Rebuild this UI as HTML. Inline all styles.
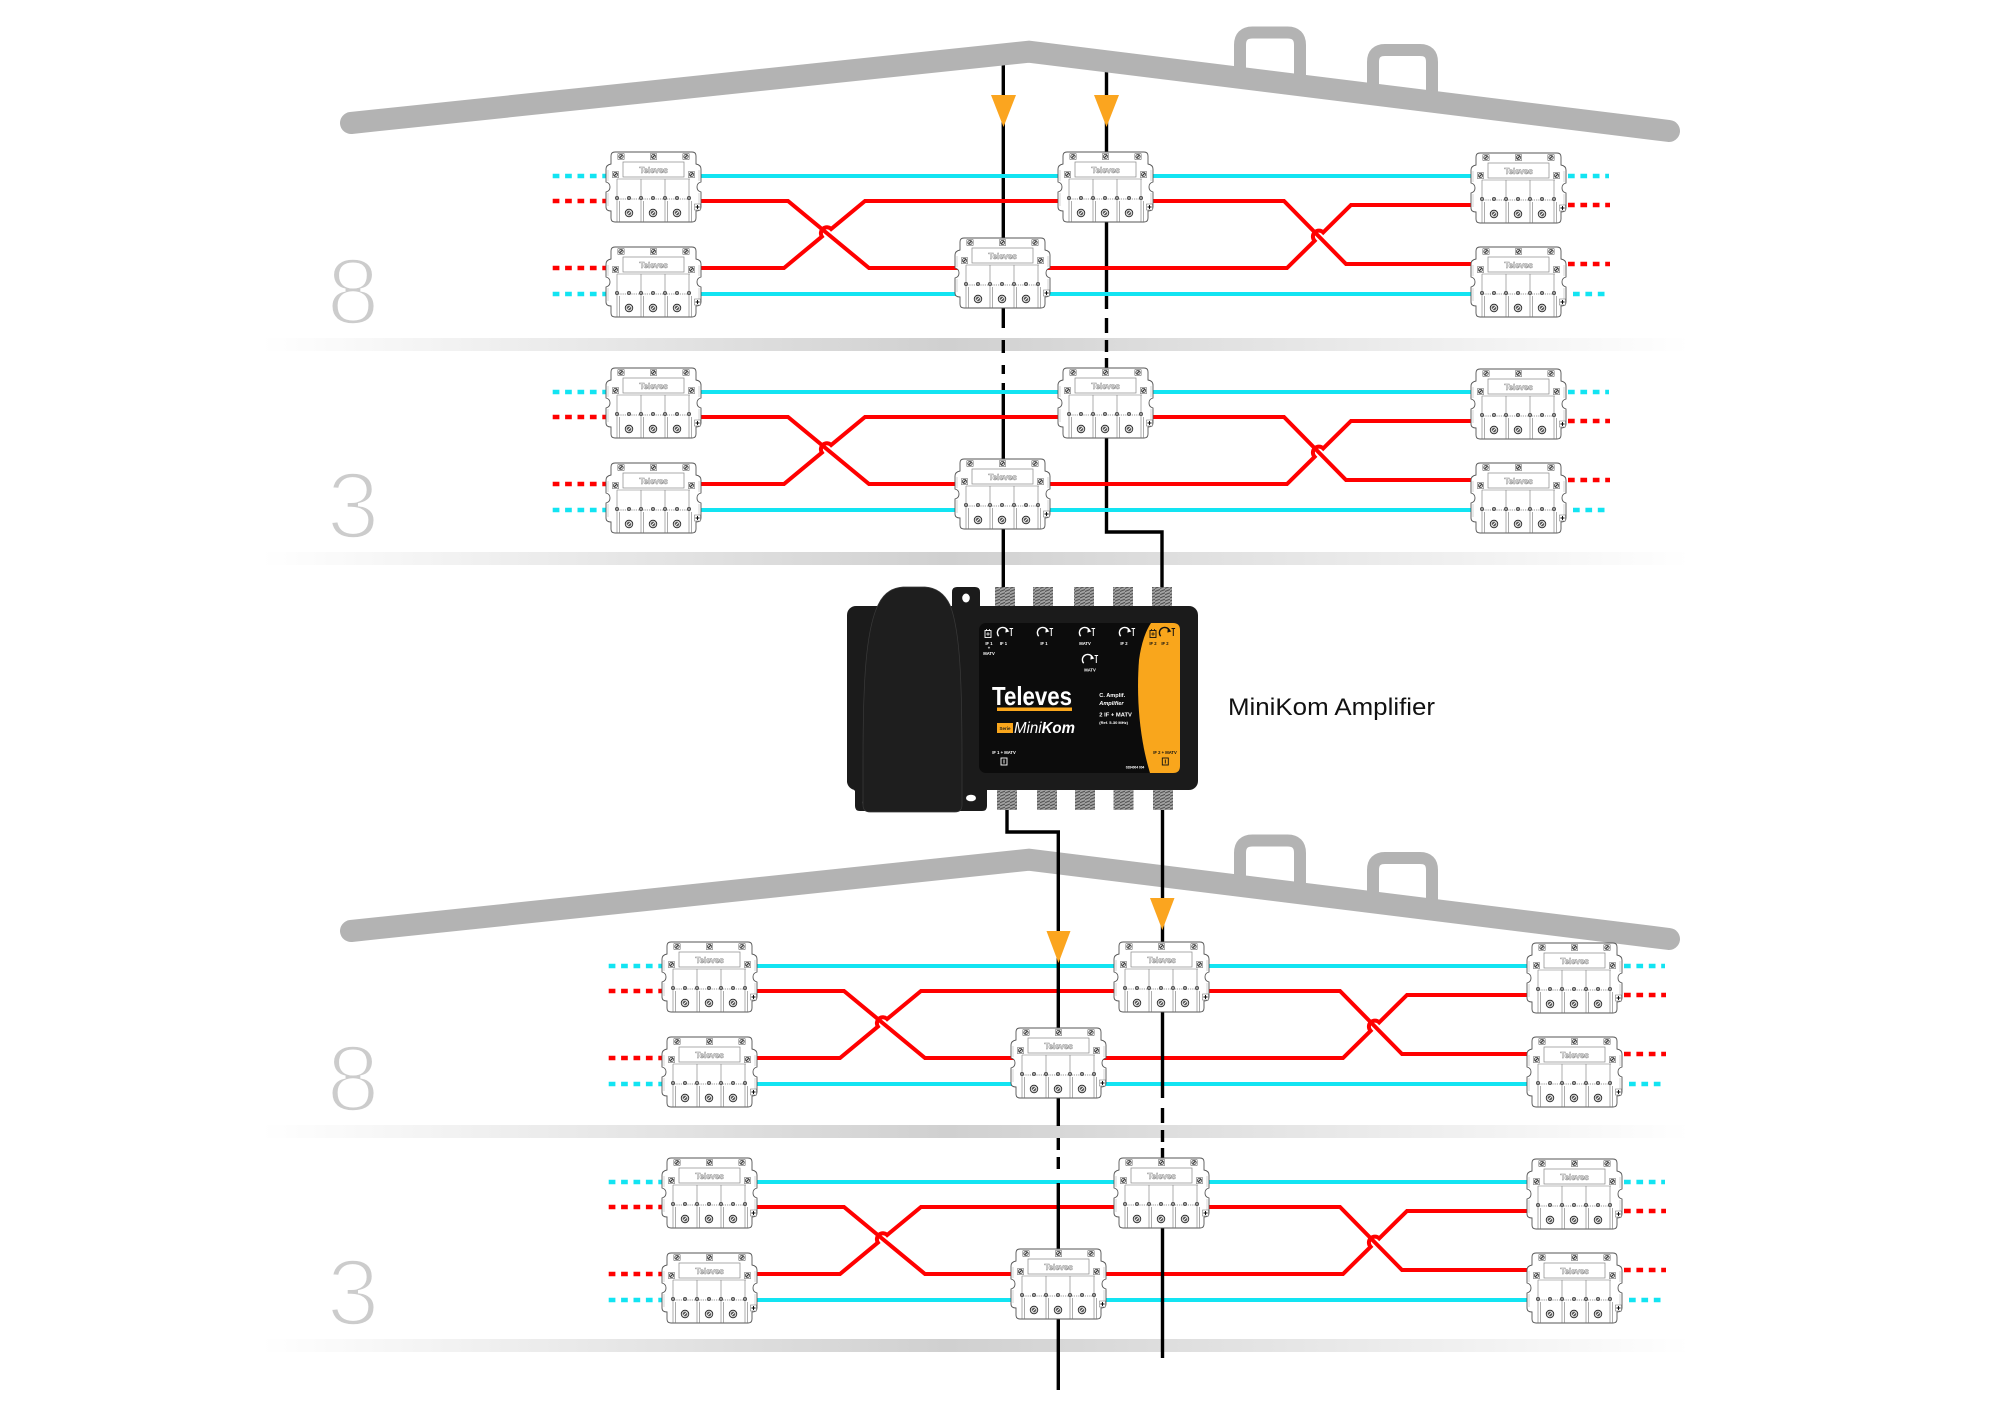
<!DOCTYPE html>
<html>
<head>
<meta charset="utf-8">
<style>
html,body{margin:0;padding:0;background:#fff;}
svg{display:block;}
</style>
</head>
<body>
<svg xmlns="http://www.w3.org/2000/svg" width="2008" height="1418" viewBox="0 0 2008 1418" font-family="'Liberation Sans', Arial, sans-serif">
<defs>
  <linearGradient id="band" gradientUnits="userSpaceOnUse" x1="262" y1="0" x2="1690" y2="0">
    <stop offset="0" stop-color="#ffffff"/>
    <stop offset="0.48" stop-color="#d0d0d0"/>
    <stop offset="1" stop-color="#ffffff"/>
  </linearGradient>
  <pattern id="thr" width="5" height="3.2" patternUnits="userSpaceOnUse">
    <rect width="5" height="3.2" fill="#a3a3a3"/>
    <path d="M0,2.7 L5,0.7" stroke="#4a4a4a" stroke-width="1"/>
  </pattern>
  <g id="scr">
    <rect x="-3.2" y="-3.2" width="6.4" height="6.4" rx="1" fill="#fff" stroke="#777" stroke-width=".6"/>
    <circle r="2.2" fill="#d8d8d8" stroke="#222" stroke-width=".6"/>
    <path d="M-1.3,1.3 L1.3,-1.3" stroke="#111" stroke-width=".8"/>
  </g>
  <g id="bs">
    <circle r="3.8" fill="#cfcfcf" stroke="#222" stroke-width=".8"/>
    <circle r="2.1" fill="#555"/>
    <path d="M-1.6,1.6 L1.6,-1.6" stroke="#fff" stroke-width=".9"/>
  </g>
  <g id="ss">
    <circle r="1.8" fill="#999" stroke="#111" stroke-width=".5"/>
  </g>
  <g id="sp">
    <path d="M4,0 H81 Q85,0 85,4 V12 Q90,13 90,17 V30 Q86,31 86,35 Q86,39 90,40 V55 Q90,59 85,59 V66 Q85,70 81,70 H4 Q0,70 0,66 V59 Q-5,59 -5,55 V40 Q-1,39 -1,35 Q-1,31 -5,30 V17 Q-5,13 0,12 V4 Q0,0 4,0 Z" fill="#fff" stroke="#555" stroke-width=".9"/>
    <path d="M-3,18 V29 M-3,41 V54 M88,18 V29 M88,41 V54" stroke="#aaa" stroke-width=".5" fill="none"/>
    <rect x="12" y="10" width="61" height="15" fill="none" stroke="#888" stroke-width=".7"/>
    <path d="M6,27 H79 M6,27 V70 M30,27 V70 M54,27 V70 M78,27 V70 M8.5,49 V70 M32.5,49 V70 M56.5,49 V70 M80.5,49 V70" stroke="#777" stroke-width=".6" fill="none"/>
    <path d="M5,47 H80" stroke="#333" stroke-width=".5" stroke-dasharray="1.2 1"/>
    <use href="#scr" x="10" y="4.5"/>
    <use href="#scr" x="42.5" y="4.5"/>
    <use href="#scr" x="75" y="4.5"/>
    <use href="#scr" x="4.5" y="22.5"/>
    <use href="#scr" x="80.5" y="22.5"/>
    <use href="#ss" x="6" y="46"/>
    <use href="#ss" x="18" y="46"/>
    <use href="#ss" x="30" y="46"/>
    <use href="#ss" x="42" y="46"/>
    <use href="#ss" x="54" y="46"/>
    <use href="#ss" x="66" y="46"/>
    <use href="#ss" x="78" y="46"/>
    <use href="#bs" x="18" y="61"/>
    <use href="#bs" x="42" y="61"/>
    <use href="#bs" x="66" y="61"/>
    <rect x="83.5" y="52" width="6" height="6" fill="#fff" stroke="#666" stroke-width=".5"/>
    <path d="M84.5,55 H88.5 M86.5,53 V57" stroke="#000" stroke-width=".9"/>
  </g>
  <g id="fl" fill="none">
    <g stroke="#12e4f2" stroke-width="4">
      <path d="M697,176 H1476"/>
      <path d="M697,294 H1476"/>
    </g>
    <g stroke="#12e4f2" stroke-width="4.5" stroke-dasharray="6.7 5.7">
      <path d="M552.7,176 H606"/>
      <path d="M552.7,294 H606"/>
      <path d="M1568,176 H1609"/>
      <path d="M1573,294 H1606"/>
    </g>
    <g stroke="#ff0000" stroke-width="4" stroke-linejoin="miter">
      <path d="M695,201 H788 L869,268 H962"/>
      <path d="M695,268 H784 L821.9,236.6 A6 6 0 0 1 831.1,229 L865,201 H1065"/>
      <path d="M1044,268 H1287 L1314.6,240.8 A6 6 0 0 1 1323.2,232.4 L1351,205 H1478"/>
      <path d="M1148,201 H1284 L1346,264 H1478"/>
    </g>
    <g stroke="#ff0000" stroke-width="4.5" stroke-dasharray="6.7 5.7">
      <path d="M552.7,201 H606"/>
      <path d="M552.7,268 H606"/>
      <path d="M1568,205 H1610"/>
      <path d="M1568,264 H1610"/>
    </g>
  </g>
  <g id="knob">
    <path d="M-4.3,3.2 A5.3 5.3 0 1 1 4.6,-2.3" fill="none" stroke="#fff" stroke-width="1.4"/>
    <path d="M2.8,-4.8 L6.4,-1.6 L2.4,-0.4 Z" fill="#fff"/>
    <path d="M8.3,-4.5 V3 M6.5,-4.5 H10.1" stroke="#fff" stroke-width="1"/>
  </g>
  <g id="knobd">
    <path d="M-4.3,3.2 A5.3 5.3 0 1 1 4.6,-2.3" fill="none" stroke="#111" stroke-width="1.4"/>
    <path d="M2.8,-4.8 L6.4,-1.6 L2.4,-0.4 Z" fill="#111"/>
    <path d="M8.3,-4.5 V3 M6.5,-4.5 H10.1" stroke="#111" stroke-width="1"/>
  </g>
  <g id="plug">
    <rect x="-3" y="-3.5" width="6" height="7" fill="none" stroke="#fff" stroke-width=".9"/>
    <path d="M-1.8,0 H1.8 M0,-1.8 V1.8 M-1.5,-5 V-3.5 M1.5,-5 V-3.5" stroke="#fff" stroke-width=".8"/>
  </g>
  <g id="plugd">
    <rect x="-3" y="-3.5" width="6" height="7" fill="none" stroke="#111" stroke-width=".9"/>
    <path d="M-1.8,0 H1.8 M0,-1.8 V1.8 M-1.5,-5 V-3.5 M1.5,-5 V-3.5" stroke="#111" stroke-width=".8"/>
  </g>
</defs>

<!-- floor bands -->
<rect x="262" y="338" width="1428" height="13" fill="url(#band)"/>
<rect x="262" y="552" width="1428" height="13" fill="url(#band)"/>
<rect x="262" y="1125" width="1428" height="13" fill="url(#band)"/>
<rect x="262" y="1339" width="1428" height="13" fill="url(#band)"/>

<!-- floor labels -->
<g font-size="95" text-anchor="middle" fill="#cccccc" stroke="#ffffff" stroke-width="3.5">
  <text x="353" y="324">8</text>
  <text x="353" y="538">3</text>
  <text x="353" y="1111">8</text>
  <text x="353" y="1325">3</text>
</g>

<!-- top house black feeder lines (under roof) -->
<g stroke="#000" stroke-width="3.4" fill="none">
  <path d="M1003.3,55 V328"/>
  <path d="M1003.3,340 V353 M1003.3,365 V374"/>
  <path d="M1003.3,383 V592"/>
  <path d="M1106.5,60 V309"/>
  <path d="M1106.5,318 V333 M1106.5,340 V352"/>
  <path d="M1106.5,358 V532 H1162 V592"/>
</g>

<!-- top roof + chimneys -->
<g fill="none" stroke="#b3b3b3">
  <path d="M1240,80 V45 Q1240,32.5 1252.5,32.5 H1287.5 Q1300,32.5 1300,45 V87" stroke-width="12"/>
  <path d="M1373,96 V62 Q1373,50 1385,50 H1420 Q1432,50 1432,62 V103" stroke-width="12"/>
  <path d="M351,123 L1029,51.7 L1669,131" stroke-width="22" stroke-linecap="round" stroke-linejoin="miter"/>
</g>

<!-- bottom roof + chimneys -->
<g fill="none" stroke="#b3b3b3">
  <path d="M1240,888 V853 Q1240,840.5 1252.5,840.5 H1287.5 Q1300,840.5 1300,853 V895" stroke-width="12"/>
  <path d="M1373,904 V870 Q1373,858 1385,858 H1420 Q1432,858 1432,870 V911" stroke-width="12"/>
  <path d="M351,931 L1029,859.7 L1669,939" stroke-width="22" stroke-linecap="round" stroke-linejoin="miter"/>
</g>

<!-- colored lines -->
<use href="#fl" x="0" y="0"/>
<use href="#fl" x="0" y="216"/>
<use href="#fl" x="56" y="790"/>
<use href="#fl" x="56" y="1006"/>

<!-- bottom house black lines -->
<g stroke="#000" stroke-width="3.4" fill="none">
  <path d="M1007,806 V832 H1058.3 V1126"/>
  <path d="M1058.3,1138 V1150 M1058.3,1157 V1169"/>
  <path d="M1058.3,1183 V1390"/>
  <path d="M1162.5,806 V1098"/>
  <path d="M1162.5,1108 V1123 M1162.5,1130 V1142"/>
  <path d="M1162.5,1148 V1358"/>
</g>

<!-- splitters -->
<g>
  <use href="#sp" x="611" y="152"/>
  <use href="#sp" x="611" y="247"/>
  <use href="#sp" x="1063" y="152"/>
  <use href="#sp" x="960" y="238"/>
  <use href="#sp" x="1476" y="153"/>
  <use href="#sp" x="1476" y="247"/>

  <use href="#sp" x="611" y="368"/>
  <use href="#sp" x="611" y="463"/>
  <use href="#sp" x="1063" y="368"/>
  <use href="#sp" x="960" y="459"/>
  <use href="#sp" x="1476" y="369"/>
  <use href="#sp" x="1476" y="463"/>

  <use href="#sp" x="667" y="942"/>
  <use href="#sp" x="667" y="1037"/>
  <use href="#sp" x="1119" y="942"/>
  <use href="#sp" x="1016" y="1028"/>
  <use href="#sp" x="1532" y="943"/>
  <use href="#sp" x="1532" y="1037"/>

  <use href="#sp" x="667" y="1158"/>
  <use href="#sp" x="667" y="1253"/>
  <use href="#sp" x="1119" y="1158"/>
  <use href="#sp" x="1016" y="1249"/>
  <use href="#sp" x="1532" y="1159"/>
  <use href="#sp" x="1532" y="1253"/>
</g>
<g font-size="8.5" font-weight="bold" text-anchor="middle" fill="#ffffff" stroke="#8a8a8a" stroke-width=".45" letter-spacing="-0.3">
  <text x="653.5" y="173">Televes</text>
  <text x="653.5" y="268">Televes</text>
  <text x="1105.5" y="173">Televes</text>
  <text x="1002.5" y="259">Televes</text>
  <text x="1518.5" y="174">Televes</text>
  <text x="1518.5" y="268">Televes</text>

  <text x="653.5" y="389">Televes</text>
  <text x="653.5" y="484">Televes</text>
  <text x="1105.5" y="389">Televes</text>
  <text x="1002.5" y="480">Televes</text>
  <text x="1518.5" y="390">Televes</text>
  <text x="1518.5" y="484">Televes</text>

  <text x="709.5" y="963">Televes</text>
  <text x="709.5" y="1058">Televes</text>
  <text x="1161.5" y="963">Televes</text>
  <text x="1058.5" y="1049">Televes</text>
  <text x="1574.5" y="964">Televes</text>
  <text x="1574.5" y="1058">Televes</text>

  <text x="709.5" y="1179">Televes</text>
  <text x="709.5" y="1274">Televes</text>
  <text x="1161.5" y="1179">Televes</text>
  <text x="1058.5" y="1270">Televes</text>
  <text x="1574.5" y="1180">Televes</text>
  <text x="1574.5" y="1274">Televes</text>
</g>

<!-- orange arrowheads -->
<g fill="#fba51f">
  <polygon points="991,95 1016,95 1003.5,127"/>
  <polygon points="1094,95 1119,95 1106.5,127"/>
  <polygon points="1046.5,931 1070.5,931 1058.5,963"/>
  <polygon points="1150,898 1174.5,898 1162.3,930"/>
</g>

<!-- amplifier -->
<g>
  <g fill="url(#thr)">
    <rect x="995" y="587" width="20" height="21"/>
    <rect x="1033" y="587" width="20" height="21"/>
    <rect x="1074" y="587" width="20" height="21"/>
    <rect x="1113" y="587" width="20" height="21"/>
    <rect x="1152" y="587" width="20" height="21"/>
    <rect x="997" y="788" width="20" height="22"/>
    <rect x="1037" y="788" width="20" height="22"/>
    <rect x="1075" y="788" width="20" height="22"/>
    <rect x="1113.5" y="788" width="20" height="22"/>
    <rect x="1153" y="788" width="20" height="22"/>
  </g>
  <path d="M952,612 V592 Q952,587 957,587 H975 Q980,587 980,592 V612 Z" fill="#1b1b1b"/>
  <ellipse cx="966" cy="598" rx="3.8" ry="4.5" fill="#fff"/>
  <rect x="847" y="606" width="351" height="184" rx="9" fill="#1b1b1b"/>
  <path d="M847,770 V782 L855,791 V806 Q855,811 860,811 H880 V770 Z" fill="#1b1b1b"/>
  <ellipse cx="866" cy="802.5" rx="3.3" ry="3" fill="#fff"/>
  <path d="M950,780 V806 Q950,811 955,811 H982 Q987,811 987,806 V780 Z" fill="#1b1b1b"/>
  <ellipse cx="971" cy="798" rx="5" ry="3.3" fill="#fff"/>
  <path d="M863,760 C863,680 866,630 878,605 Q886,588 903,587 L925,587 Q942,588 950,605 C960,630 962,680 962,760 L962,805 Q962,812 955,812 L870,812 Q863,812 863,805 Z" fill="#1e1e1e" stroke="#3a3a3a" stroke-width=".7"/>
  <rect x="979" y="623" width="201" height="150" rx="7" fill="#0c0c0c"/>
  <path d="M1151,623 H1173 Q1180,623 1180,630 V766 Q1180,773 1173,773 H1150 C1140,740 1136,700 1139,660 C1141,645 1145,632 1151,623 Z" fill="#f9a61c"/>

  <use href="#plug" x="988" y="634"/>
  <use href="#knob" x="1003" y="633"/>
  <use href="#knob" x="1043" y="633"/>
  <use href="#knob" x="1085" y="633"/>
  <use href="#knob" x="1125" y="633"/>
  <use href="#knob" x="1088" y="660"/>
  <use href="#plugd" x="1153" y="634"/>
  <use href="#knobd" x="1165" y="633"/>

  <g font-size="4.2" font-weight="bold" fill="#fff" text-anchor="middle">
    <text x="989" y="645">IF 1</text>
    <text x="989" y="649.5">+</text>
    <text x="989" y="655">MATV</text>
    <text x="1003.5" y="645">IF 1</text>
    <text x="1044" y="645">IF 1</text>
    <text x="1085" y="645">MATV</text>
    <text x="1124" y="645">IF 2</text>
    <text x="1090" y="671.5">MATV</text>
    <text x="1004" y="754">IF 1 + MATV</text>
  </g>
  <g font-size="4.2" font-weight="bold" fill="#111" text-anchor="middle">
    <text x="1153" y="645">IF 2</text>
    <text x="1165" y="645">IF 2</text>
    <text x="1165" y="754">IF 2 + MATV</text>
  </g>
  <rect x="1001" y="758" width="6" height="7" fill="none" stroke="#fff" stroke-width=".9"/>
  <path d="M1004,759.5 V763.5" stroke="#fff" stroke-width=".9"/>
  <rect x="1162.3" y="758" width="6" height="7" fill="none" stroke="#111" stroke-width=".9"/>
  <path d="M1165.3,759.5 V763.5" stroke="#111" stroke-width=".9"/>
  <text x="1135" y="768.5" font-size="3.2" font-weight="bold" fill="#fff" text-anchor="middle">0284004 004</text>

  <text x="992" y="705" font-size="26" font-weight="bold" fill="#fff" textLength="80" lengthAdjust="spacingAndGlyphs">Televes</text>
  <rect x="997" y="707.5" width="75" height="3.5" fill="#f9a61c"/>
  <rect x="997" y="723" width="16" height="10" fill="#f9a61c"/>
  <text x="1005" y="730" font-size="4.5" font-weight="bold" fill="#1a1a1a" text-anchor="middle">Serie</text>
  <text x="1014" y="733" font-size="16" fill="#fff" font-style="italic" textLength="61" lengthAdjust="spacingAndGlyphs"><tspan>Mini</tspan><tspan font-weight="bold">Kom</tspan></text>

  <g fill="#fff" font-weight="bold">
    <text x="1099.3" y="697" font-size="5.6">C. Amplif.</text>
    <text x="1099.3" y="705" font-size="5.6" font-style="italic">Amplifier</text>
    <text x="1099.3" y="716.7" font-size="5.8">2 IF + MATV</text>
    <text x="1099.3" y="724" font-size="4">(Ref. 5-30 MHz)</text>
  </g>
</g>

<text x="1228" y="715" font-size="24" fill="#111" textLength="207" lengthAdjust="spacingAndGlyphs">MiniKom Amplifier</text>
</svg>
</body>
</html>
